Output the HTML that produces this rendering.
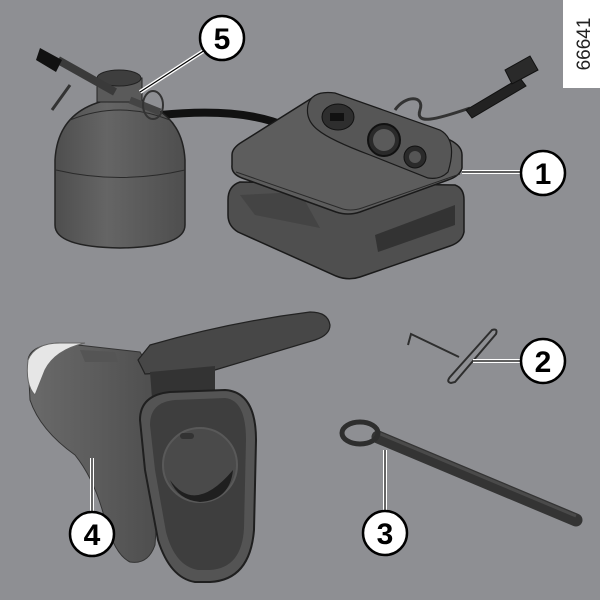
<!DOCTYPE html>
<html><head><style>
html,body{margin:0;padding:0;width:600px;height:600px;overflow:hidden;background:#8d8e92;}
svg{display:block}
</style></head><body>
<svg width="600" height="600" viewBox="0 0 600 600" xmlns="http://www.w3.org/2000/svg" font-family="Liberation Sans, sans-serif">
<defs>
<linearGradient id="bot" x1="0" x2="1"><stop offset="0" stop-color="#4e4e4e"/><stop offset="0.4" stop-color="#656565"/><stop offset="1" stop-color="#4e4e4e"/></linearGradient>
<linearGradient id="ch" x1="0" x2="1"><stop offset="0" stop-color="#6a6a6a"/><stop offset="0.5" stop-color="#5c5c5c"/><stop offset="1" stop-color="#4c4c4c"/></linearGradient>
</defs>
<rect width="600" height="600" fill="#8e8f93"/>
<rect x="563" y="0" width="37" height="88" fill="#fff"/>
<text x="0" y="0" transform="translate(590,44) rotate(-90)" text-anchor="middle" font-size="19" fill="#222">66641</text>

<!-- hose -->
<path d="M160 115 C210 110 255 112 290 128" stroke="#111" stroke-width="8" fill="none"/>
<path d="M395 110 C405 95 425 95 420 110 C415 125 435 120 470 108" stroke="#333" stroke-width="3" fill="none"/>
<path d="M466 110 L520 78 L526 86 L472 118 Z" fill="#222" stroke="#111"/>
<path d="M505 70 L530 56 L538 70 L512 84 Z" fill="#2a2a2a" stroke="#111"/>
<!-- bottle -->
<path d="M55 160 Q58 105 120 98 Q182 105 185 160 L185 225 Q185 247 120 248 Q55 247 55 225 Z" fill="url(#bot)" stroke="#222" stroke-width="1.5"/>
<path d="M56 170 Q120 185 185 170" stroke="#2a2a2a" fill="none"/>
<path d="M70 120 Q120 100 170 120" stroke="#2a2a2a" fill="none"/>
<rect x="97" y="78" width="45" height="24" fill="#5a5a5a" stroke="#222"/>
<ellipse cx="119" cy="78" rx="22" ry="8" fill="#3e3e3e" stroke="#222"/>
<path d="M58 60 L115 92" stroke="#3a3a3a" stroke-width="8"/>
<path d="M40 48 L62 60 L56 72 L36 60 Z" fill="#111"/>
<path d="M70 85 L52 110" stroke="#333" stroke-width="3"/>
<path d="M130 100 L160 112" stroke="#444" stroke-width="7"/>
<ellipse cx="153" cy="105" rx="10" ry="14" fill="none" stroke="#333" stroke-width="2"/>
<path d="M140 92 L205 50" stroke="#fff" stroke-width="4"/>
<path d="M140 92 L205 50" stroke="#000" stroke-width="1.2"/>

<!-- compressor base -->
<path d="M228 200 Q228 186 240 182 L455 185 Q464 188 464 200 L464 232 Q462 242 450 246 L360 277 Q348 281 336 276 L238 232 Q228 226 228 215 Z" fill="#4f4f4f" stroke="#1a1a1a" stroke-width="1.5"/>
<path d="M375 235 L455 205 L455 225 L378 252 Z" fill="#333"/>
<path d="M240 195 L300 192 L320 228 L255 215 Z" fill="#444"/>
<!-- compressor top -->
<path d="M232 155 Q232 148 242 142 L312 98 Q322 92 335 95 L450 140 Q462 146 462 155 L462 168 Q460 176 448 180 L360 212 Q348 216 336 212 L242 178 Q231 174 232 165 Z" fill="#5d5d5d" stroke="#1a1a1a" stroke-width="1.5"/>
<path d="M236 172 L340 208 Q350 212 362 208 L460 174" stroke="#2a2a2a" fill="none"/>
<path d="M308 105 Q312 90 335 93 L440 130 Q458 140 448 172 Q440 180 428 178 L370 155 Q330 140 318 130 Q305 120 308 105 Z" fill="#565656" stroke="#1a1a1a" stroke-width="1.2"/>
<ellipse cx="338" cy="117" rx="16" ry="13" fill="#2e2e2e" stroke="#111"/>
<rect x="330" y="113" width="14" height="8" fill="#111"/>
<circle cx="384" cy="140" r="16" fill="#2a2a2a" stroke="#111" stroke-width="2"/>
<circle cx="384" cy="140" r="11" fill="#5a5a5a"/>
<circle cx="415" cy="157" r="11" fill="#2a2a2a" stroke="#111"/>
<circle cx="415" cy="157" r="6" fill="#555"/>
<path d="M462 172 L523 172" stroke="#fff" stroke-width="4"/><path d="M462 172 L523 172" stroke="#000" stroke-width="1.2"/>

<!-- hook 2 -->
<path d="M408 345 L411 334 L459 357" fill="none" stroke="#2e2e2e" stroke-width="2"/>
<path d="M492 330 L450 377 Q446 382 451 383 L455 382 L496 334 Q498 328 492 330 Z" fill="none" stroke="#2e2e2e" stroke-width="2"/>
<path d="M473 361 L520 361" stroke="#fff" stroke-width="4"/><path d="M473 361 L520 361" stroke="#000" stroke-width="1.2"/>

<!-- rod 3 -->
<path d="M378 437 L576 520" stroke="#343434" stroke-width="13" stroke-linecap="round"/>
<path d="M378 433 L576 516" stroke="#4a4a4a" stroke-width="3"/>
<ellipse cx="360" cy="433" rx="18" ry="11" fill="none" stroke="#2e2e2e" stroke-width="5"/>
<path d="M385 450 L385 512" stroke="#fff" stroke-width="4"/><path d="M385 450 L385 512" stroke="#000" stroke-width="1.2"/>

<!-- charger 4 -->
<path d="M28 360 Q30 345 60 343 L140 352 L165 395 L155 545 Q148 565 130 562 Q115 555 105 520 Q95 480 75 455 Q40 430 30 400 Z" fill="url(#ch)" stroke="#333" stroke-width="1"/>
<path d="M28 360 Q35 343 60 343 L85 343 Q55 350 45 370 L35 395 Q25 385 28 360 Z" fill="#e6e6e6" stroke="#666"/>
<path d="M80 350 L115 352 L118 362 L85 362 Z" fill="#555"/>
<path d="M138 360 L150 345 Q230 322 310 312 Q328 312 330 325 Q330 335 315 340 L215 370 L145 374 Z" fill="#474747" stroke="#222" stroke-width="1.2"/>
<path d="M150 372 L215 366 L215 395 L152 398 Z" fill="#333"/>
<path d="M140 420 Q140 395 170 392 L225 390 Q256 392 256 440 L254 530 Q250 580 210 582 L195 582 Q170 578 158 540 L145 470 Z" fill="#545454" stroke="#1f1f1f" stroke-width="2"/>
<path d="M150 425 Q150 402 175 400 L225 398 Q246 400 246 440 L244 528 Q242 568 210 570 L198 570 Q175 566 166 532 L155 470 Z" fill="#3e3e3e"/>
<circle cx="200" cy="465" r="37" fill="#4a4a4a" stroke="#595959" stroke-width="2"/>
<path d="M170 480 Q195 515 233 470 Q230 500 200 502 Q178 500 170 480 Z" fill="#1f1f1f"/>
<rect x="180" y="433" width="14" height="6" rx="3" fill="#333"/>
<path d="M92 458 L92 512" stroke="#fff" stroke-width="4"/><path d="M92 458 L92 512" stroke="#000" stroke-width="1.2"/>

<g font-weight="bold" font-size="30" text-anchor="middle">
<circle cx="222" cy="38" r="22" fill="#fff" stroke="#000" stroke-width="2.5"/><text x="222" y="49">5</text>
<circle cx="543" cy="173" r="22" fill="#fff" stroke="#000" stroke-width="2.5"/><text x="543" y="184">1</text>
<circle cx="543" cy="361" r="22" fill="#fff" stroke="#000" stroke-width="2.5"/><text x="543" y="372">2</text>
<circle cx="385" cy="533" r="22" fill="#fff" stroke="#000" stroke-width="2.5"/><text x="385" y="544">3</text>
<circle cx="92" cy="534" r="22" fill="#fff" stroke="#000" stroke-width="2.5"/><text x="92" y="545">4</text>
</g>
</svg>
</body></html>
